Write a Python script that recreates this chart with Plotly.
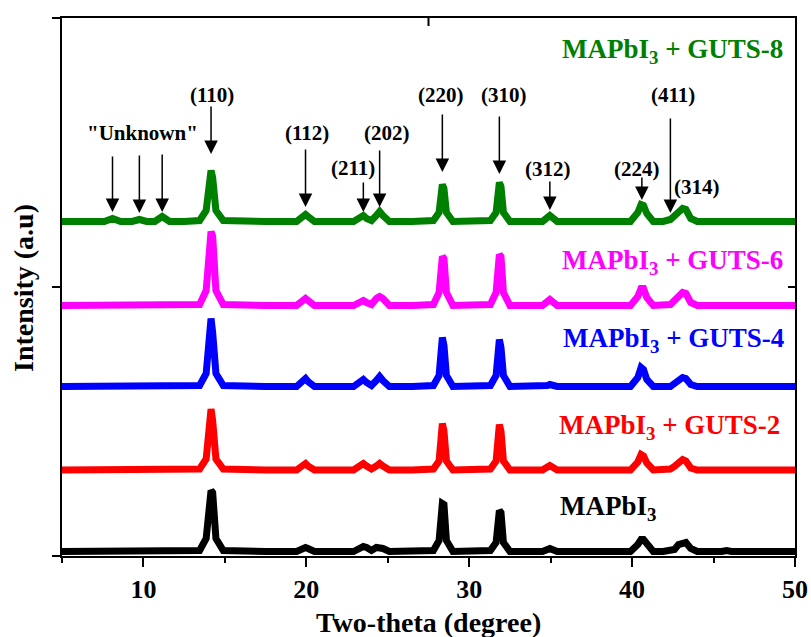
import plotly.graph_objects as go

# ---------------- data ----------------
two_theta = [5.0, 6.5, 7.6, 8.1, 8.6, 9.3, 9.75, 10.2, 10.7, 11.15, 11.6, 12.5,
             13.45, 13.85, 14.05, 14.15, 14.25, 14.45, 14.9,
             16.0, 17.5, 19.4, 19.8, 19.95, 20.1, 20.5,
             22.9, 23.3, 23.5, 23.7, 24.0, 24.3, 24.5, 24.7, 25.1,
             26.5, 27.8, 28.15, 28.25, 28.35, 28.45, 28.6, 29.0,
             30.5, 31.3, 31.65, 31.75, 31.85, 31.95, 32.1, 32.5,
             34.5, 34.8, 34.95, 35.1, 35.4,
             37.0, 39.9, 40.35, 40.55, 40.7, 40.9, 41.3,
             41.9, 42.35, 42.6, 42.85, 43.1, 43.3, 43.6, 44.0,
             45.5, 45.8, 46.1, 47.2, 47.5, 47.8, 50.0]

int_mapbi3 = [1, 1, 1, 1, 1, 1, 1, 1, 1, 1, 1, 1,
              2, 14, 60, 62, 60, 14, 2,
              1, 1, 1, 4, 5, 4, 1,
              1, 5, 6, 5, 2, 5, 5, 4, 1,
              1, 2, 12, 47, 49, 48, 12, 1,
              1, 2, 10, 40, 42, 40, 10, 1,
              1, 3, 4, 3, 1,
              1, 1, 8, 13, 13, 9, 1,
              1, 2, 3, 8, 10, 10, 4, 1,
              1, 2, 1, 1, 2, 1, 1]

int_guts2 = [1, 1, 1, 1, 1, 1, 1, 1, 1, 1, 1, 1,
             2, 12, 50, 62, 50, 12, 2,
             1, 1, 1, 5, 7.5, 5, 1,
             1, 5, 7.5, 5, 2, 5, 7.5, 5, 1,
             1, 2, 10, 40, 47.5, 40, 10, 1,
             1, 2, 10, 40, 46.5, 40, 10, 1,
             1, 4, 5.5, 4, 1,
             1, 1, 9, 16.5, 15, 8, 1,
             1, 2, 4.5, 8, 11.5, 10, 3, 1,
             1, 2, 1, 1, 2, 1, 1]

int_guts4 = [1, 1, 1, 1, 1, 1, 1, 1, 1, 1, 1, 1,
             2, 14, 55, 69, 55, 14, 2,
             1, 1, 1, 6, 9, 6, 1,
             1, 5, 8, 5, 2, 7, 11, 7, 1,
             1, 2, 12, 42, 50, 42, 12, 1,
             1, 2, 12, 40, 48, 40, 12, 1,
             1, 2, 3, 2, 1,
             1, 1, 10, 20, 18, 8, 1,
             1, 1, 4, 7, 10, 9, 3, 1,
             1, 1, 1, 1, 1, 1, 1]

int_guts6 = [1, 1, 1, 2, 1, 1, 2, 1, 1, 2, 1, 1,
             2, 16, 70, 75, 70, 16, 2,
             1, 1, 1, 6, 8, 6, 1,
             1, 4, 6, 4, 2, 8, 10, 8, 1,
             1, 2, 14, 48, 50, 48, 14, 1,
             1, 2, 14, 50, 52, 50, 14, 1,
             1, 5, 7, 5, 1,
             1, 1, 10, 18, 18, 9, 1,
             1, 2, 6, 10, 14, 13, 4, 1,
             1, 1, 1, 1, 1, 1, 1]

int_guts8 = [1, 1, 1, 4, 1, 1, 3, 1, 1, 6, 1, 1,
             2, 12, 45, 52, 45, 12, 2,
             1, 1, 1, 6, 8, 6, 1,
             1, 4, 7, 4, 2, 7, 11, 7, 1,
             1, 2, 10, 34, 38, 34, 10, 1,
             1, 2, 10, 36, 40, 36, 10, 1,
             1, 5, 7, 5, 1,
             1, 1, 10, 18, 17, 9, 1,
             1, 3, 6, 9, 14, 13, 4, 1,
             1, 1, 1, 1, 1, 1, 1]

series_names = ["MAPbI<sub>3</sub>", "MAPbI<sub>3</sub> + GUTS-2", "MAPbI<sub>3</sub> + GUTS-4",
                "MAPbI<sub>3</sub> + GUTS-6", "MAPbI<sub>3</sub> + GUTS-8"]
series_data = [int_mapbi3, int_guts2, int_guts4, int_guts6, int_guts8]
series_offsets = [3.5, 85, 168.5, 249.5, 333.5]
series_colors = ["#000000", "#ff0000", "#0000ff", "#ff00ff", "#008000"]

# peak assignments: (label, 2theta of arrow)
peak_labels = ["(110)", "(112)", "(211)", "(202)", "(220)", "(310)", "(312)", "(224)", "(411)"]
peak_pos = [14.15, 19.95, 23.5, 24.5, 28.35, 31.85, 34.95, 40.6, 42.35]
unknown_pos = [8.1, 9.75, 11.15]

# ---------------- layout helpers (pixel geometry) ----------------
W, H = 811, 637
L, R, T, B = 62, 795, 18, 556
YMAX = B - T


def py2y(py):
    return B - py


def px2x(px):
    return 5 + (px - L) / (R - L) * 45


FONT = "Liberation Serif, Times New Roman, serif"

fig = go.Figure()
for name, vals, off, col in zip(series_names, series_data, series_offsets, series_colors):
    fig.add_trace(go.Scatter(
        x=two_theta, y=[v + off for v in vals], mode="lines",
        line=dict(color=col, width=7), name=name, showlegend=False,
        hoverinfo="skip"))

annotations = []
# series labels
label_py = [503, 422, 335, 257, 46]
label_px = [558, 557, 561, 560, 560]
for name, col, lpy, lpx in zip(series_names, series_colors, label_py, label_px):
    annotations.append(dict(
        text="<b>" + name + "</b>", x=px2x(lpx), y=py2y(lpy) - 5, xref="x", yref="y",
        xanchor="left", yanchor="middle", showarrow=False,
        font=dict(family=FONT, size=27, color=col)))

# arrows (tail, tip in pixel rows)
arrow_tail = [105, 148, 181, 149, 113, 115, 180, 176, 117]
arrow_tip = [154, 207, 212, 207, 172, 174, 210, 200, 213]
for xp, tl, tp in zip(peak_pos, arrow_tail, arrow_tip):
    annotations.append(dict(
        x=xp, y=py2y(tp), ax=xp, ay=py2y(tl), xref="x", yref="y", axref="x", ayref="y",
        text="", showarrow=True, arrowhead=2, arrowsize=1.8, arrowwidth=1.5,
        arrowcolor="black"))
for xp, tl, tp in zip(unknown_pos, [155, 154, 153], [212, 213, 212]):
    annotations.append(dict(
        x=xp, y=py2y(tp), ax=xp, ay=py2y(tl), xref="x", yref="y", axref="x", ayref="y",
        text="", showarrow=True, arrowhead=2, arrowsize=1.8, arrowwidth=1.5,
        arrowcolor="black"))

# peak label texts (pixel centres)
plab_text = peak_labels + ["(314)", "\"Unknown\""]
plab_px = [212, 307, 353, 387, 441, 504, 548, 637, 673, 697, 142]
plab_py = [95, 133, 168, 133, 95, 95, 169, 169, 95, 187, 133]
for t, lx, ly in zip(plab_text, plab_px, plab_py):
    annotations.append(dict(
        text="<b>" + t + "</b>", x=px2x(lx), y=py2y(ly), xref="x", yref="y",
        xanchor="center", yanchor="middle", showarrow=False,
        font=dict(family=FONT, size=21, color="black")))

# axis titles placed at their pixel centres
annotations.append(dict(
    text="<b>Two-theta (degree)</b>", xref="paper", yref="paper",
    x=(428 - L) / (R - L), y=(B - 622) / YMAX, xanchor="center", yanchor="middle",
    showarrow=False, font=dict(family=FONT, size=28, color="black")))
annotations.append(dict(
    text="<b>Intensity (a.u)</b>", xref="paper", yref="paper", textangle=-90,
    x=(23 - L) / (R - L), y=(B - 288) / YMAX, xanchor="center", yanchor="middle",
    showarrow=False, font=dict(family=FONT, size=28, color="black")))

# inward ticks on top and right frame
shapes = [
    dict(type="line", xref="x", yref="paper", x0=27.5, x1=27.5, y0=1, y1=1 - 8 / YMAX,
         line=dict(color="black", width=2)),
    dict(type="line", xref="paper", yref="y", x0=1, x1=1 - 7 / (R - L), y0=YMAX / 2, y1=YMAX / 2,
         line=dict(color="black", width=2)),
]

fig.update_layout(
    width=W, height=H,
    margin=dict(l=L, r=W - R, t=T, b=H - B, autoexpand=False),
    paper_bgcolor="white", plot_bgcolor="white",
    annotations=annotations, shapes=shapes,
    xaxis=dict(range=[5, 50], tickvals=[10, 20, 30, 40, 50], automargin=False,
               ticks="outside", ticklen=9, tickwidth=2, tickcolor="black",
               minor=dict(tickvals=[5, 15, 25, 35, 45], ticks="outside", ticklen=5,
                          tickwidth=2, tickcolor="black"),
               showline=True, linewidth=2, linecolor="black", mirror=True,
               showgrid=False, zeroline=False,
               tickfont=dict(family=FONT, size=26, color="black", weight="bold")),
    yaxis=dict(range=[0, YMAX], tickvals=[0, YMAX / 2, YMAX], showticklabels=False,
               automargin=False,
               ticks="outside", ticklen=8, tickwidth=2, tickcolor="black",
               showline=True, linewidth=2, linecolor="black", mirror=True,
               showgrid=False, zeroline=False),
)

fig.write_html("out.html")
